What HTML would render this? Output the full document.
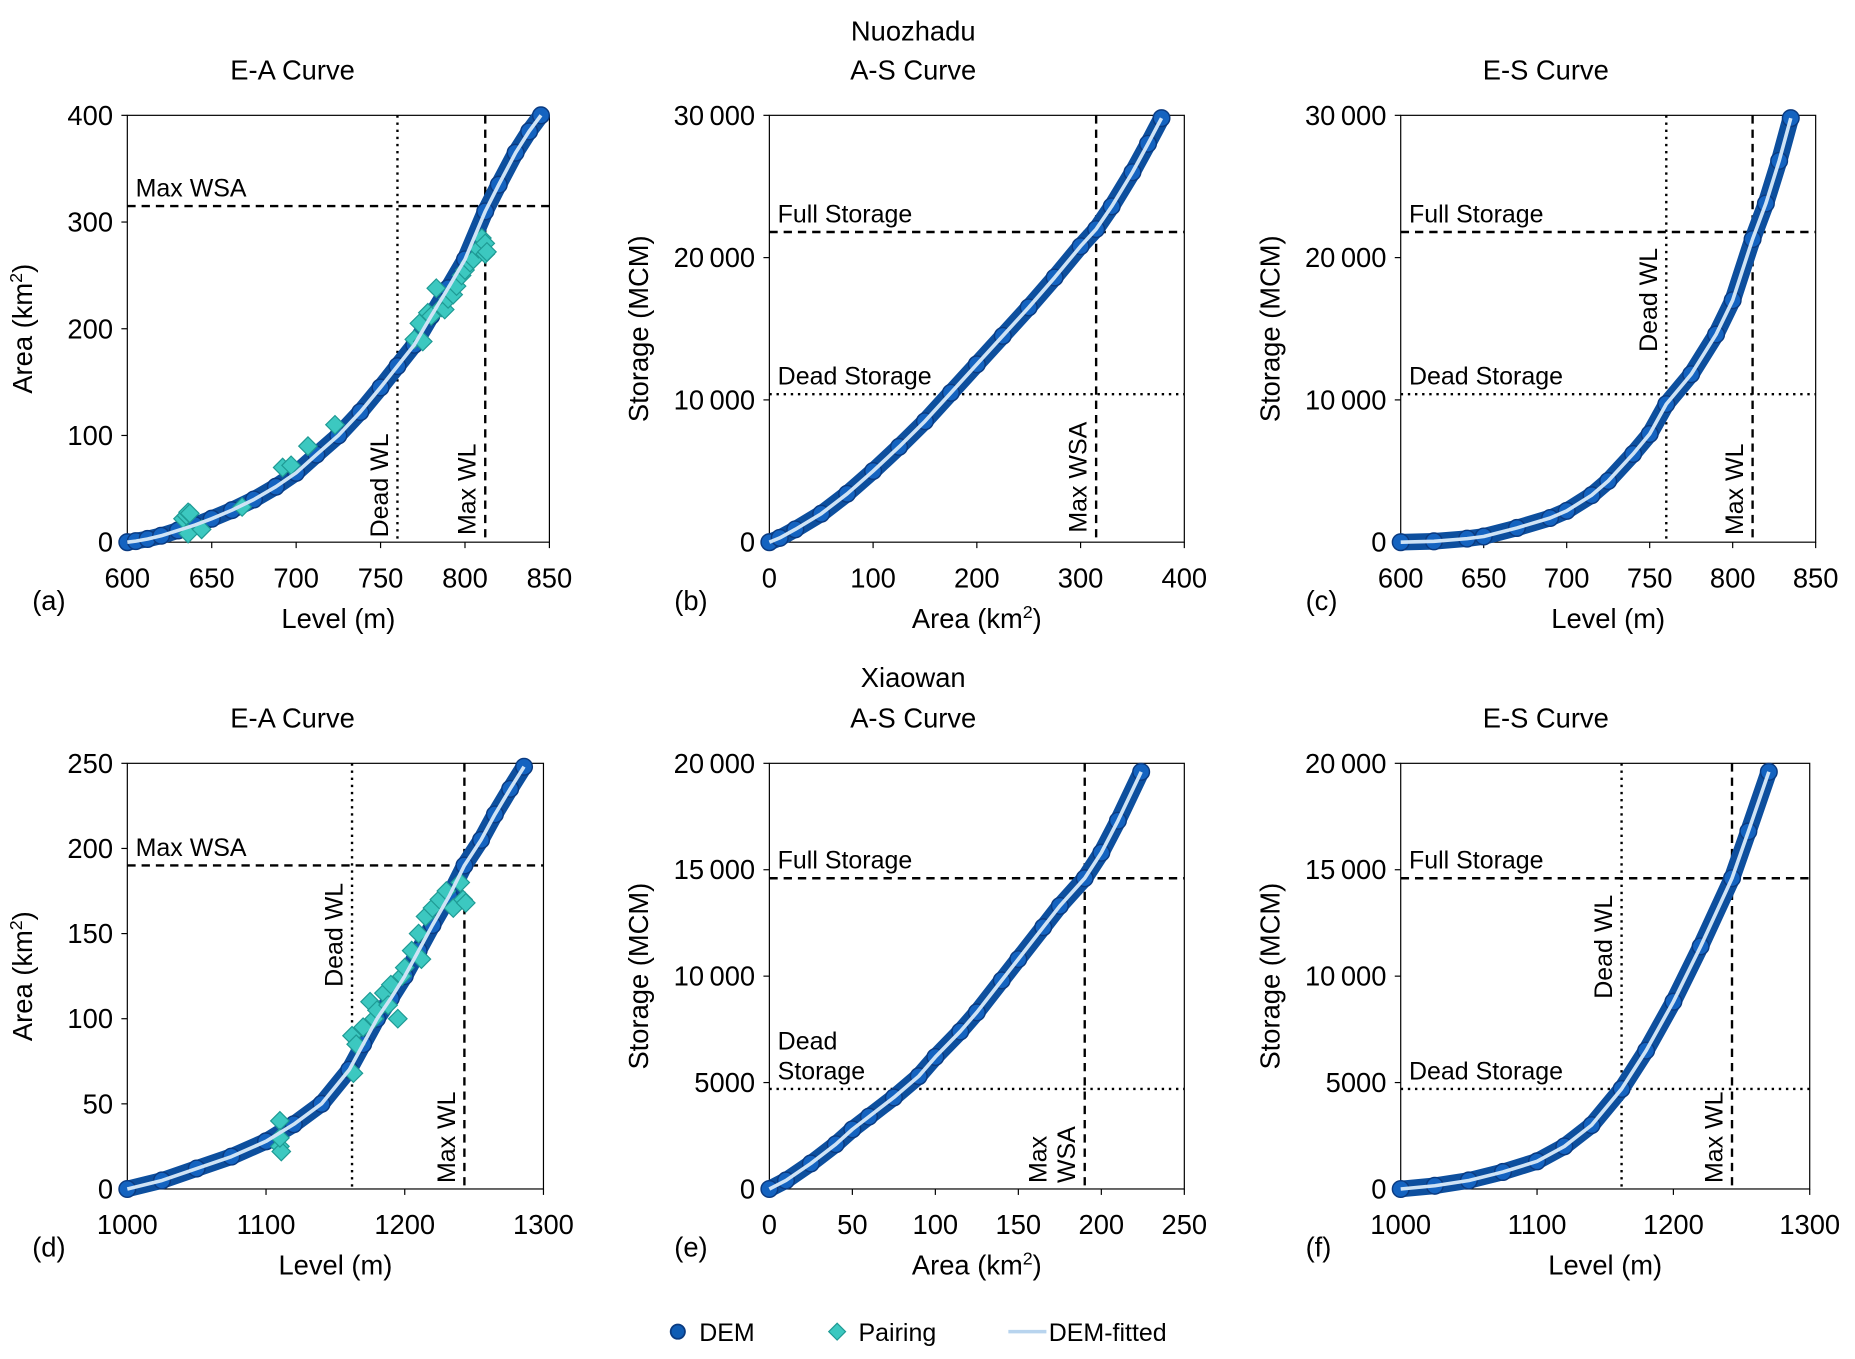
<!DOCTYPE html>
<html><head><meta charset="utf-8"><style>
html,body{margin:0;padding:0;background:#fff}
svg{display:block;font-family:"Liberation Sans",Arial,sans-serif}
</style></head><body>
<svg id="fig" width="1855" height="1359" viewBox="0 0 1560 1143" xmlns="http://www.w3.org/2000/svg">
<text x="768" y="34" font-size="23" text-anchor="middle">Nuozhadu</text>
<text x="768" y="578" font-size="23" text-anchor="middle">Xiaowan</text>
<g>
<circle cx="570" cy="1120" r="6" fill="#0f5cb4" stroke="#0a3a80" stroke-width="1.5"/>
<text x="588" y="1128" font-size="21">DEM</text>
<rect x="699" y="1115" width="10" height="10" fill="#3cc8c0" stroke="#1e9a94" transform="rotate(45 704 1120)"/>
<text x="722" y="1128" font-size="21">Pairing</text>
<line x1="848" y1="1120" x2="880" y2="1120" stroke="#b8d4ee" stroke-width="3"/>
<text x="882" y="1128" font-size="21">DEM-fitted</text>
</g>
</svg>
<script>
// ---- data ----
const eaNuoLevel=[600,605,612,620,630,640,650,662,675,688,700,712,725,738,750,760,770,780,790,800,812,820,830,838,845];
const eaNuoArea=[0,1,3,6,11,16,22,30,40,52,65,82,100,122,145,165,185,212,238,265,310,335,365,385,400];
const pairNuoLevel=[633,635,636,637,636,644,668,692,697,707,723,770,773,775,778,780,783,786,788,790,793,795,798,800,803,805,808,810,812,812,813];
const pairNuoArea=[22,25,28,27,8,12,33,70,72,90,110,190,205,188,215,212,238,220,218,228,232,240,250,255,262,265,275,285,270,280,272];
const asNuoArea=[0,10,25,50,75,100,125,150,175,200,225,250,275,300,315,330,350,365,378];
const asNuoStor=[0,300,900,2000,3400,5000,6700,8500,10500,12500,14500,16500,18600,20800,22000,23600,26000,28000,29800];
const esNuoLevel=[600,620,640,650,670,690,700,715,725,740,750,760,775,790,800,812,820,828,835];
const esNuoStor=[0,60,250,400,1000,1700,2200,3300,4300,6200,7600,9700,11800,14600,17000,21300,23800,26800,29800];
const eaXiaLevel=[1000,1025,1050,1075,1100,1120,1140,1160,1170,1180,1190,1200,1210,1220,1232,1243,1255,1265,1276,1286];
const eaXiaArea=[0,5,12,19,28,38,50,70,85,100,112,125,140,155,172,190,205,220,235,248];
const pairXiaLevel=[1110,1110,1111,1110,1162,1163,1165,1170,1175,1178,1180,1185,1188,1190,1195,1198,1200,1205,1210,1212,1215,1220,1225,1230,1235,1240,1242,1244];
const pairXiaArea=[40,25,22,30,90,68,85,95,110,100,105,115,108,120,100,125,130,140,150,135,160,165,170,175,165,180,170,168];
const asXiaArea=[0,10,25,40,50,60,75,90,100,115,125,140,150,165,175,190,200,210,224];
const asXiaStor=[0,400,1200,2100,2800,3400,4300,5300,6200,7400,8300,9800,10800,12300,13300,14600,15800,17300,19600];
const esXiaLevel=[1000,1025,1050,1075,1100,1120,1140,1162,1180,1200,1220,1243,1255,1270];
const esXiaStor=[0,150,400,800,1300,2000,3000,4700,6500,8800,11400,14600,16800,19600];

const NS='http://www.w3.org/2000/svg';
const svg=document.getElementById('fig');
function mk(tag,attrs,parent){const e=document.createElementNS(NS,tag);for(const k in attrs)e.setAttribute(k,attrs[k]);(parent||svg).appendChild(e);return e;}
function fmt(v){return v>=10000?String(v).replace(/(\d\d)(\d{3})$/,'$1\u2009$2'):String(v);}

function panel(p){
  const g=mk('g',{});
  
  
  const sx=v=>p.x0+(v-p.xmin)/(p.xmax-p.xmin)*(p.x1-p.x0);
  const sy=v=>p.y1-(v-p.ymin)/(p.ymax-p.ymin)*(p.y1-p.y0);
  const fr=mk('rect',{x:p.x0,y:p.y0,width:p.x1-p.x0,height:p.y1-p.y0,fill:'none',stroke:'#000','stroke-width':1},g);
  
  
  p.xt.forEach(v=>{
    mk('line',{x1:sx(v),x2:sx(v),y1:p.y1,y2:p.y1+5,stroke:'#000'},g);
    const t=mk('text',{x:sx(v),y:p.y1+38,'font-size':23,'text-anchor':'middle'},g);t.textContent=v;
    
    
  });
  p.yt.forEach(v=>{
    mk('line',{x1:p.x0-5,x2:p.x0,y1:sy(v),y2:sy(v),stroke:'#000'},g);
    const t=mk('text',{x:p.x0-12,y:sy(v)+8,'font-size':23,'text-anchor':'end'},g);t.textContent=fmt(v);
    
    
  });
  const tt=mk('text',{x:p.tx,y:p.y0-30,'font-size':23,'text-anchor':'middle'},g);tt.textContent=p.title;
  
  
  const xl=mk('text',{x:(p.x0+p.x1)/2,y:p.y1+72,'font-size':23,'text-anchor':'middle'},g);xl.innerHTML=p.xlab;
  
  
  const ylx=p.x0-p.ylOff, yly=(p.y0+p.y1)/2;
  const yl=mk('text',{x:ylx,y:yly,'font-size':23,'text-anchor':'middle',transform:`rotate(-90 ${ylx} ${yly})`},g);yl.innerHTML=p.ylab;
  
  
  const pl=mk('text',{x:p.x0-80,y:p.y1+57,'font-size':23},g);pl.textContent=p.label;
  
  
  p.hl.forEach(h=>{
    const l=mk('line',{x1:p.x0,x2:p.x1,y1:sy(h.v),y2:sy(h.v),stroke:'#000','stroke-width':2,'stroke-dasharray':h.dot?'2 4':'7 5'},g);
    
    
    h.text.forEach((s,i)=>{const t=mk('text',{x:p.x0+7,y:sy(h.v)-8-(h.text.length-1-i)*25,'font-size':21},g);t.textContent=s;
      
      });
  });
  p.vl.forEach(h=>{
    const l=mk('line',{x1:sx(h.v),x2:sx(h.v),y1:p.y0,y2:p.y1,stroke:'#000','stroke-width':2,'stroke-dasharray':h.dot?'2 4':'7 5'},g);
    
    
    h.text.forEach((s,i)=>{const n=h.text.length;const tx=sx(h.v)-8-(n-1-i)*24, ty=h.ty;
      const t=mk('text',{x:tx,y:ty,'font-size':21,transform:`rotate(-90 ${tx} ${ty})`},g);t.textContent=s;
      
      });
  });
  const pts=p.dx.map((v,i)=>sx(v)+','+sy(p.dy[i])).join(' ');
  const band=mk('polyline',{points:pts,fill:'none',stroke:'#0d4f9e','stroke-width':14,'stroke-linejoin':'round','stroke-linecap':'round'},g);
  
  
  p.dx.forEach((v,i)=>{const c=mk('circle',{cx:sx(v),cy:sy(p.dy[i]),r:7,fill:'#1463c0',stroke:'#0a3a80','stroke-width':1.2},g);
    
    });
  if(p.px){p.px.forEach((v,i)=>{const cx=sx(v),cy=sy(p.py[i]);
    const r=mk('rect',{x:cx-5.5,y:cy-5.5,width:11,height:11,fill:'#3cc8c0',stroke:'#1e9a94','stroke-width':1,transform:`rotate(45 ${cx} ${cy})`},g);
    
    });}
  const fit=mk('polyline',{points:pts,fill:'none',stroke:'#cfe3f5','stroke-width':3,'stroke-linejoin':'round'},g);
  
  
}
const A='Area (km<tspan baseline-shift="super" font-size="15">2</tspan>)';
const S='Storage (MCM)';
const L='Level (m)';
panel({id:'a',label:'(a)',title:'E-A Curve',tx:246,x0:107,x1:462,y0:97,y1:456,xmin:600,xmax:850,ymin:0,ymax:400,xt:[600,650,700,750,800,850],yt:[0,100,200,300,400],xlab:L,ylab:A,ylOff:80,
  dx:eaNuoLevel,dy:eaNuoArea,px:pairNuoLevel,py:pairNuoArea,
  hl:[{v:315,name:'max-wsa',text:['Max WSA']}],vl:[{v:760,dot:1,name:'dead-wl',text:['Dead WL'],ty:452},{v:812,name:'max-wl',text:['Max WL'],ty:450}]});
panel({id:'b',label:'(b)',title:'A-S Curve',tx:768,x0:647,x1:996,y0:97,y1:456,xmin:0,xmax:400,ymin:0,ymax:30000,xt:[0,100,200,300,400],yt:[0,10000,20000,30000],xlab:A,ylab:S,ylOff:102,
  dx:asNuoArea,dy:asNuoStor,
  hl:[{v:21800,name:'full-storage',text:['Full Storage']},{v:10400,dot:1,name:'dead-storage',text:['Dead Storage']}],vl:[{v:315,name:'max-wsa',text:['Max WSA'],ty:448}]});
panel({id:'c',label:'(c)',title:'E-S Curve',tx:1300,x0:1178,x1:1527,y0:97,y1:456,xmin:600,xmax:850,ymin:0,ymax:30000,xt:[600,650,700,750,800,850],yt:[0,10000,20000,30000],xlab:L,ylab:S,ylOff:102,
  dx:esNuoLevel,dy:esNuoStor,
  hl:[{v:21800,name:'full-storage',text:['Full Storage']},{v:10400,dot:1,name:'dead-storage',text:['Dead Storage']}],vl:[{v:760,dot:1,name:'dead-wl',text:['Dead WL'],ty:296},{v:812,name:'max-wl',text:['Max WL'],ty:450}]});
panel({id:'d',label:'(d)',title:'E-A Curve',tx:246,x0:107,x1:457,y0:642,y1:1000,xmin:1000,xmax:1300,ymin:0,ymax:250,xt:[1000,1100,1200,1300],yt:[0,50,100,150,200,250],xlab:L,ylab:A,ylOff:80,
  dx:eaXiaLevel,dy:eaXiaArea,px:pairXiaLevel,py:pairXiaArea,
  hl:[{v:190,name:'max-wsa',text:['Max WSA']}],vl:[{v:1162,dot:1,name:'dead-wl',text:['Dead WL'],ty:830},{v:1243,name:'max-wl',text:['Max WL'],ty:995}]});
panel({id:'e',label:'(e)',title:'A-S Curve',tx:768,x0:647,x1:996,y0:642,y1:1000,xmin:0,xmax:250,ymin:0,ymax:20000,xt:[0,50,100,150,200,250],yt:[0,5000,10000,15000,20000],xlab:A,ylab:S,ylOff:102,
  dx:asXiaArea,dy:asXiaStor,
  hl:[{v:14600,name:'full-storage',text:['Full Storage']},{v:4700,dot:1,name:'dead-storage',text:['Dead','Storage']}],vl:[{v:190,name:'max-wsa',text:['Max','WSA'],ty:995}]});
panel({id:'f',label:'(f)',title:'E-S Curve',tx:1300,x0:1178,x1:1522,y0:642,y1:1000,xmin:1000,xmax:1300,ymin:0,ymax:20000,xt:[1000,1100,1200,1300],yt:[0,5000,10000,15000,20000],xlab:L,ylab:S,ylOff:102,
  dx:esXiaLevel,dy:esXiaStor,
  hl:[{v:14600,name:'full-storage',text:['Full Storage']},{v:4700,dot:1,name:'dead-storage',text:['Dead Storage']}],vl:[{v:1162,dot:1,name:'dead-wl',text:['Dead WL'],ty:840},{v:1243,name:'max-wl',text:['Max WL'],ty:995}]});
</script>
</body></html>
